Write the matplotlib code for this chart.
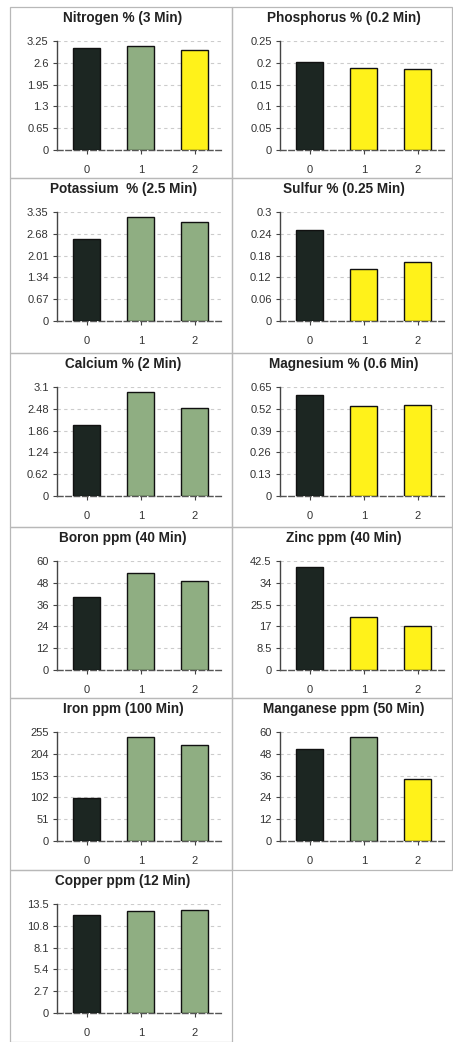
import numpy as np
import matplotlib
matplotlib.use("Agg")
import matplotlib.pyplot as plt
from matplotlib.patches import Rectangle

plt.rcParams['font.family'] = ['Liberation Sans', 'DejaVu Sans']

# Data
titles = ['Nitrogen % (3 Min)', 'Phosphorus % (0.2 Min)',
          'Potassium  % (2.5 Min)', 'Sulfur % (0.25 Min)',
          'Calcium % (2 Min)', 'Magnesium % (0.6 Min)',
          'Boron ppm (40 Min)', 'Zinc ppm (40 Min)',
          'Iron ppm (100 Min)', 'Manganese ppm (50 Min)',
          'Copper ppm (12 Min)']
categories = ['0', '1', '2']
values = [
    [3.04, 3.11, 2.98],
    [0.201, 0.188, 0.186],
    [2.53, 3.20, 3.04],
    [0.251, 0.144, 0.162],
    [2.02, 2.96, 2.51],
    [0.602, 0.535, 0.545],
    [40.1, 53.6, 48.9],
    [40.2, 20.8, 17.3],
    [100.1, 242.5, 224.5],
    [50.4, 57.1, 34.0],
    [12.17, 12.67, 12.71],
]
axis_max = [3.25, 0.25, 3.35, 0.3, 3.1, 0.65, 60, 42.5, 255, 60, 13.5]
# d = dark (control), g = green (sufficient), y = yellow (low)
status = ['dgy', 'dyy', 'dgg', 'dyy', 'dgg', 'dyy',
          'dgg', 'dyy', 'dgg', 'dgy', 'dgg']

colors = {'d': '#1c2622', 'g': '#8fae82', 'y': '#fff21a'}

W, H = 453, 1042
fig = plt.figure(figsize=(W / 100, H / 100), dpi=100)

col_left = [10, 232]
col_right = [232, 452]
row_top = [7, 178, 353, 527, 698, 870, 1042]
ax_left = [57, 280]
ax_w = 165


def fx(px):
    return px / W


def fy(py):
    return 1 - py / H


for i, title in enumerate(titles):
    r, c = divmod(i, 2)
    top = row_top[r]
    bottom = row_top[r + 1]

    # panel border
    fig.patches.append(Rectangle((fx(col_left[c]), fy(bottom)),
                                 fx(col_right[c] - col_left[c]),
                                 (bottom - top) / H,
                                 transform=fig.transFigure, fill=False,
                                 edgecolor='#b8b8b8', linewidth=0.9))

    fig.text(fx((col_left[c] + col_right[c]) / 2 + 2), fy(top + 11), title,
             ha='center', va='center', fontsize=9.8, fontweight='bold',
             color='#222222')

    y0 = top + 143
    y1 = top + 34
    ax = fig.add_axes([fx(ax_left[c]), fy(y0), fx(ax_w), (y0 - y1) / H])
    x = np.arange(len(categories))
    ax.bar(x, values[i], width=0.5,
           color=[colors[s] for s in status[i]],
           edgecolor='#111111', linewidth=1.0, zorder=3)

    ymax = axis_max[i]
    ticks = np.linspace(0, ymax, 6)
    ax.set_ylim(0, ymax)
    ax.set_yticks(ticks)
    ax.set_yticklabels([f'{round(t, 4):g}' for t in ticks])
    ax.set_xlim(-0.55, 2.5)
    ax.set_xticks(x)
    ax.set_xticklabels(categories)

    ax.grid(axis='y', linestyle=(0, (3, 3)), color='#cccccc', linewidth=0.8,
            zorder=0)
    for side in ['top', 'right']:
        ax.spines[side].set_visible(False)
    ax.spines['left'].set_color('#444444')
    ax.spines['left'].set_linewidth(1.0)
    ax.spines['bottom'].set_color('#555555')
    ax.spines['bottom'].set_linestyle((0, (4, 2)))
    ax.spines['bottom'].set_linewidth(1.0)

    ax.tick_params(axis='y', length=3, width=0.8, color='#444444',
                   labelsize=8, labelcolor='#333333', pad=3)
    ax.tick_params(axis='x', length=3, width=0.8, color='#444444',
                   labelsize=8, labelcolor='#333333', pad=8)
    ax.set_facecolor('none')

fig.savefig('out.png', dpi=100)
